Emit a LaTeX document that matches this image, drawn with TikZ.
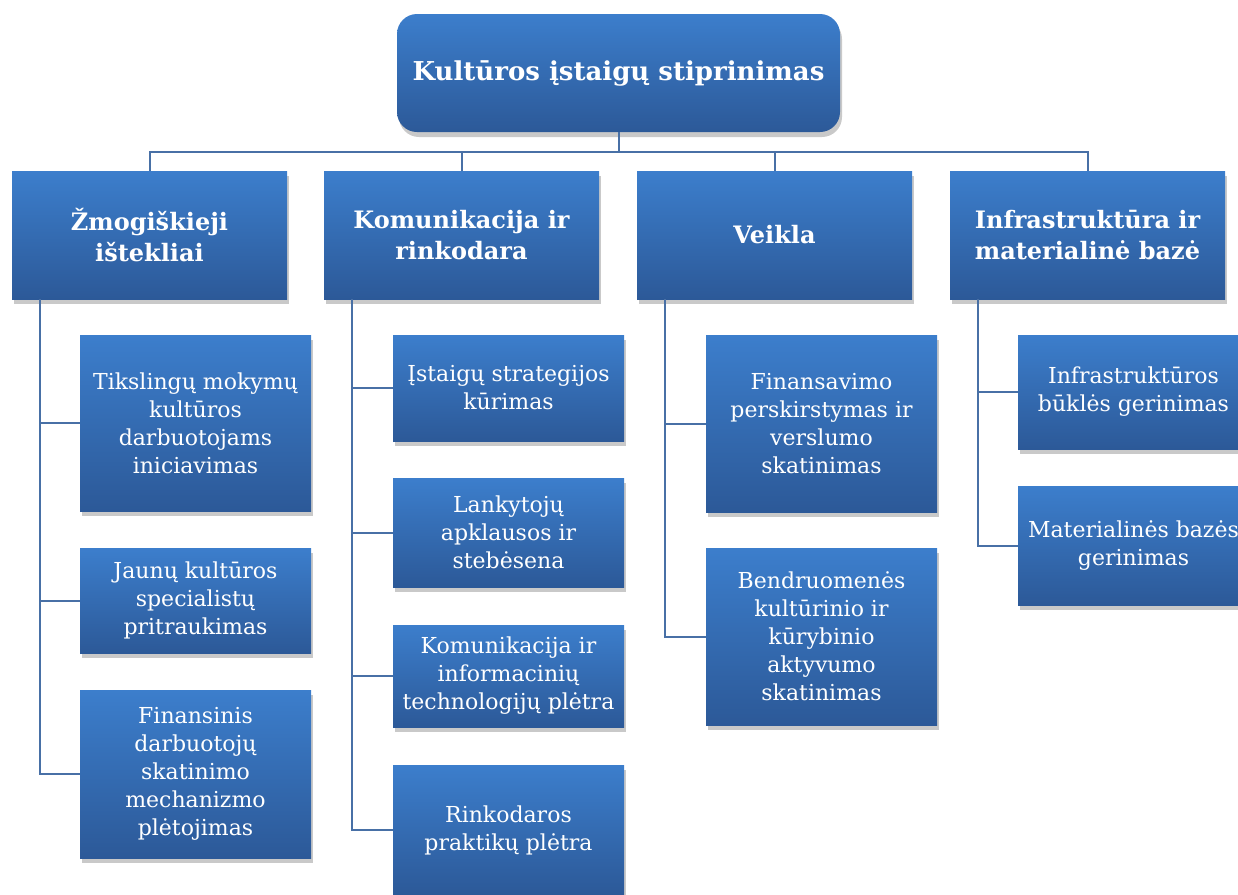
\documentclass[tikz,border=0pt]{standalone}
\usepackage{fontspec}
\setmainfont{DejaVu Serif}
\usetikzlibrary{shadows}

\definecolor{boxtop}{RGB}{60,126,204}
\definecolor{boxbot}{RGB}{44,89,152}
\definecolor{linkblue}{RGB}{72,112,166}

\begin{document}
\begin{tikzpicture}[
    x=0.5pt, y=-0.5pt,
    bluebox/.style={rectangle, top color=boxtop, bottom color=boxbot,
                    text=white, align=center, inner sep=2pt,
                    drop shadow={shadow xshift=1pt, shadow yshift=-2.5pt,
                                 opacity=0.3, fill=black!70}},
    rootbox/.style={bluebox, rounded corners=10pt,
                    minimum width=221.5pt, minimum height=59pt,
                    font=\bfseries\fontsize{13}{16}\selectfont},
    head/.style={bluebox, minimum width=137.5pt, minimum height=64pt,
                 font=\bfseries\fontsize{12}{15.5}\selectfont},
    leaf/.style={bluebox, minimum width=115.5pt,
                 font=\fontsize{11}{14}\selectfont},
    link/.style={draw=linkblue, line width=1pt},
  ]
  \useasboundingbox (0,0) rectangle (1238,895);

  % Column centres (pixels of the 1238 x 895 frame)
  % Level 1: four heads, each with a stack of leaves on its right
  \def\xA{149.5}  \def\xAl{195.5}   % Zmogiskieji istekliai
  \def\xB{461.5}  \def\xBl{508.5}   % Komunikacija ir rinkodara
  \def\xC{774.5}  \def\xCl{821.5}   % Veikla
  \def\xD{1087.5} \def\xDl{1133.5}  % Infrastruktura

  \def\yHead{235}

  % ── Root ────────────────────────────────────────────────────────────
  \node[rootbox] (root) at (618.5,73) {Kultūros įstaigų stiprinimas};

  % ── Heads ───────────────────────────────────────────────────────────
  \node[head] (hr)    at (\xA,\yHead) {Žmogiškieji\\ištekliai};
  \node[head] (kom)   at (\xB,\yHead) {Komunikacija ir\\rinkodara};
  \node[head] (veik)  at (\xC,\yHead) {Veikla};
  \node[head] (infra) at (\xD,\yHead) {Infrastruktūra ir\\materialinė bazė};

  \foreach \h in {hr,kom,veik,infra}
    \draw[link] (root.south) -- ++(0,20) -| (\h.north);

  % ── Zmogiskieji istekliai ───────────────────────────────────────────
  \node[leaf, minimum height=88pt] (hr1) at (\xAl,423)
    {Tikslingų mokymų\\kultūros\\darbuotojams\\iniciavimas};
  \node[leaf, minimum height=52.5pt] (hr2) at (\xAl,600.5)
    {Jaunų kultūros\\specialistų\\pritraukimas};
  \node[leaf, minimum height=84pt] (hr3) at (\xAl,774)
    {Finansinis\\darbuotojų\\skatinimo\\mechanizmo\\plėtojimas};

  \foreach \c in {hr1,hr2,hr3}
    \draw[link] ([xshift=14pt]hr.south west) |- (\c.west);

  % ── Komunikacija ir rinkodara ───────────────────────────────────────
  \node[leaf, minimum height=53pt] (kom1) at (\xBl,388)
    {Įstaigų strategijos\\kūrimas};
  \node[leaf, minimum height=54.5pt] (kom2) at (\xBl,532.5)
    {Lankytojų\\apklausos ir\\stebėsena};
  \node[leaf, minimum height=51pt] (kom3) at (\xBl,676)
    {Komunikacija ir\\informacinių\\technologijų plėtra};
  \node[leaf, minimum height=65pt] (kom4) at (\xBl,830)
    {Rinkodaros\\praktikų plėtra};

  \foreach \c in {kom1,kom2,kom3,kom4}
    \draw[link] ([xshift=14pt]kom.south west) |- (\c.west);

  % ── Veikla ──────────────────────────────────────────────────────────
  \node[leaf, minimum height=88.5pt] (veik1) at (\xCl,423.5)
    {Finansavimo\\perskirstymas ir\\verslumo\\skatinimas};
  \node[leaf, minimum height=88.5pt] (veik2) at (\xCl,636.5)
    {Bendruomenės\\kultūrinio ir\\kūrybinio\\aktyvumo\\skatinimas};

  \foreach \c in {veik1,veik2}
    \draw[link] ([xshift=14pt]veik.south west) |- (\c.west);

  % ── Infrastruktura ir materialine baze ──────────────────────────────
  \node[leaf, minimum height=57pt] (infra1) at (\xDl,392)
    {Infrastruktūros\\būklės gerinimas};
  \node[leaf, minimum height=59.5pt] (infra2) at (\xDl,545.5)
    {Materialinės bazės\\gerinimas};

  \foreach \c in {infra1,infra2}
    \draw[link] ([xshift=14pt]infra.south west) |- (\c.west);

\end{tikzpicture}
\end{document}
